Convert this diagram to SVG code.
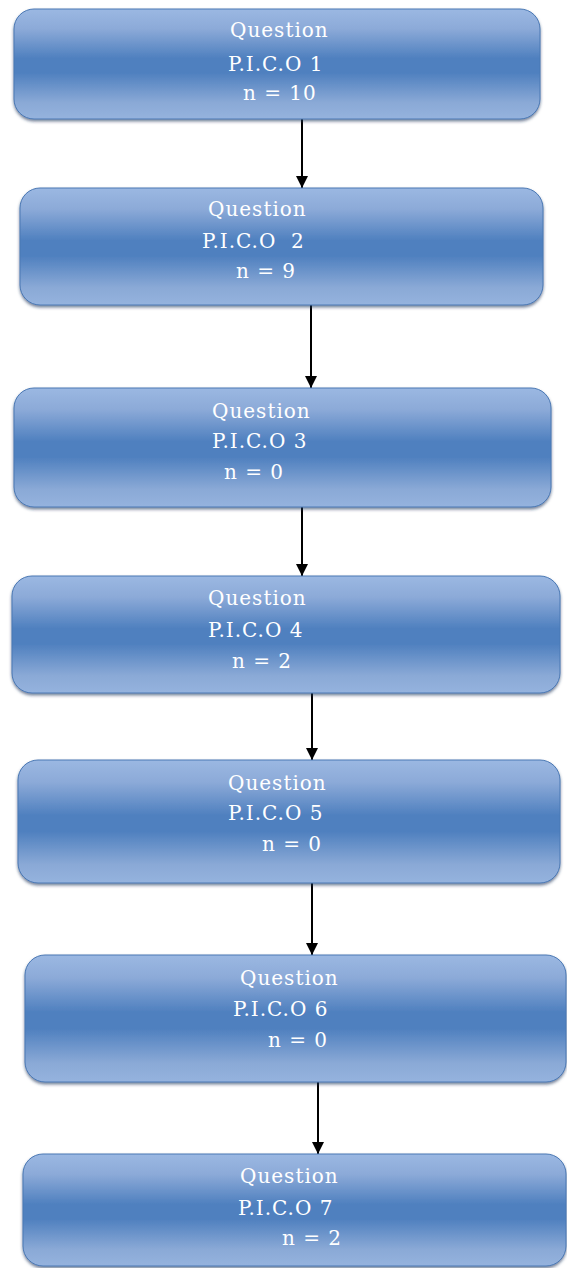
<svg xmlns="http://www.w3.org/2000/svg" width="567" height="1268" viewBox="0 0 567 1268">
<style>
.box{fill:url(#g);stroke:#4a78b4;stroke-width:1;filter:url(#sh)}
.t{font-family:"DejaVu Serif","Liberation Serif",serif;font-size:20px;fill:#ffffff;letter-spacing:1px;white-space:pre}
.c{stroke:#000;stroke-width:2;fill:none;marker-end:url(#ah)}
</style>
<defs>
<linearGradient id="g" x1="0" y1="0" x2="0" y2="1">
<stop offset="0" stop-color="#9bb8e2"/>
<stop offset="0.18" stop-color="#8caad8"/>
<stop offset="0.45" stop-color="#4f80bf"/>
<stop offset="0.58" stop-color="#4f80bf"/>
<stop offset="0.85" stop-color="#8aa9d6"/>
<stop offset="1" stop-color="#95b3de"/>
</linearGradient>
<filter id="sh" x="-5%" y="-10%" width="110%" height="125%">
<feDropShadow dx="0" dy="2" stdDeviation="1.5" flood-color="#1c3558" flood-opacity="0.6"/>
</filter>
<marker id="ah" markerWidth="12" markerHeight="12" viewBox="0 0 12 12" refX="12" refY="6" orient="auto" markerUnits="userSpaceOnUse">
<path d="M0,0 L12,6 L0,12 z" fill="#000"/>
</marker>
</defs>
<g id="connectors">
<line class="c" x1="302" y1="119" x2="302" y2="188"/>
<line class="c" x1="311" y1="305" x2="311" y2="388"/>
<line class="c" x1="302" y1="507" x2="302" y2="576"/>
<line class="c" x1="312" y1="693" x2="312" y2="760"/>
<line class="c" x1="312" y1="883" x2="312" y2="955"/>
<line class="c" x1="318" y1="1082" x2="318" y2="1154"/>
</g>
<g id="node1">
<rect class="box" x="14" y="9" width="526" height="110" rx="20"/>
<text class="t" x="230" y="37">Question</text>
<text class="t" x="228" y="71">P.I.C.O 1</text>
<text class="t" x="243" y="100">n = 10</text>
</g>
<g id="node2">
<rect class="box" x="20" y="188" width="523" height="117" rx="20"/>
<text class="t" x="208" y="216">Question</text>
<text class="t" x="202" y="248" xml:space="preserve">P.I.C.O  2</text>
<text class="t" x="236" y="278">n = 9</text>
</g>
<g id="node3">
<rect class="box" x="14" y="388" width="537" height="119" rx="20"/>
<text class="t" x="212" y="418">Question</text>
<text class="t" x="212" y="448">P.I.C.O 3</text>
<text class="t" x="224" y="479">n = 0</text>
</g>
<g id="node4">
<rect class="box" x="12" y="576" width="548" height="117" rx="20"/>
<text class="t" x="208" y="605">Question</text>
<text class="t" x="208" y="637">P.I.C.O 4</text>
<text class="t" x="232" y="668">n = 2</text>
</g>
<g id="node5">
<rect class="box" x="18" y="760" width="542" height="123" rx="20"/>
<text class="t" x="228" y="790">Question</text>
<text class="t" x="228" y="820">P.I.C.O 5</text>
<text class="t" x="262" y="851">n = 0</text>
</g>
<g id="node6">
<rect class="box" x="25" y="955" width="541" height="127" rx="20"/>
<text class="t" x="240" y="985">Question</text>
<text class="t" x="233" y="1016">P.I.C.O 6</text>
<text class="t" x="268" y="1047">n = 0</text>
</g>
<g id="node7">
<rect class="box" x="23" y="1154" width="543" height="112" rx="20"/>
<text class="t" x="240" y="1183">Question</text>
<text class="t" x="238" y="1215">P.I.C.O 7</text>
<text class="t" x="282" y="1245">n = 2</text>
</g>
</svg>
